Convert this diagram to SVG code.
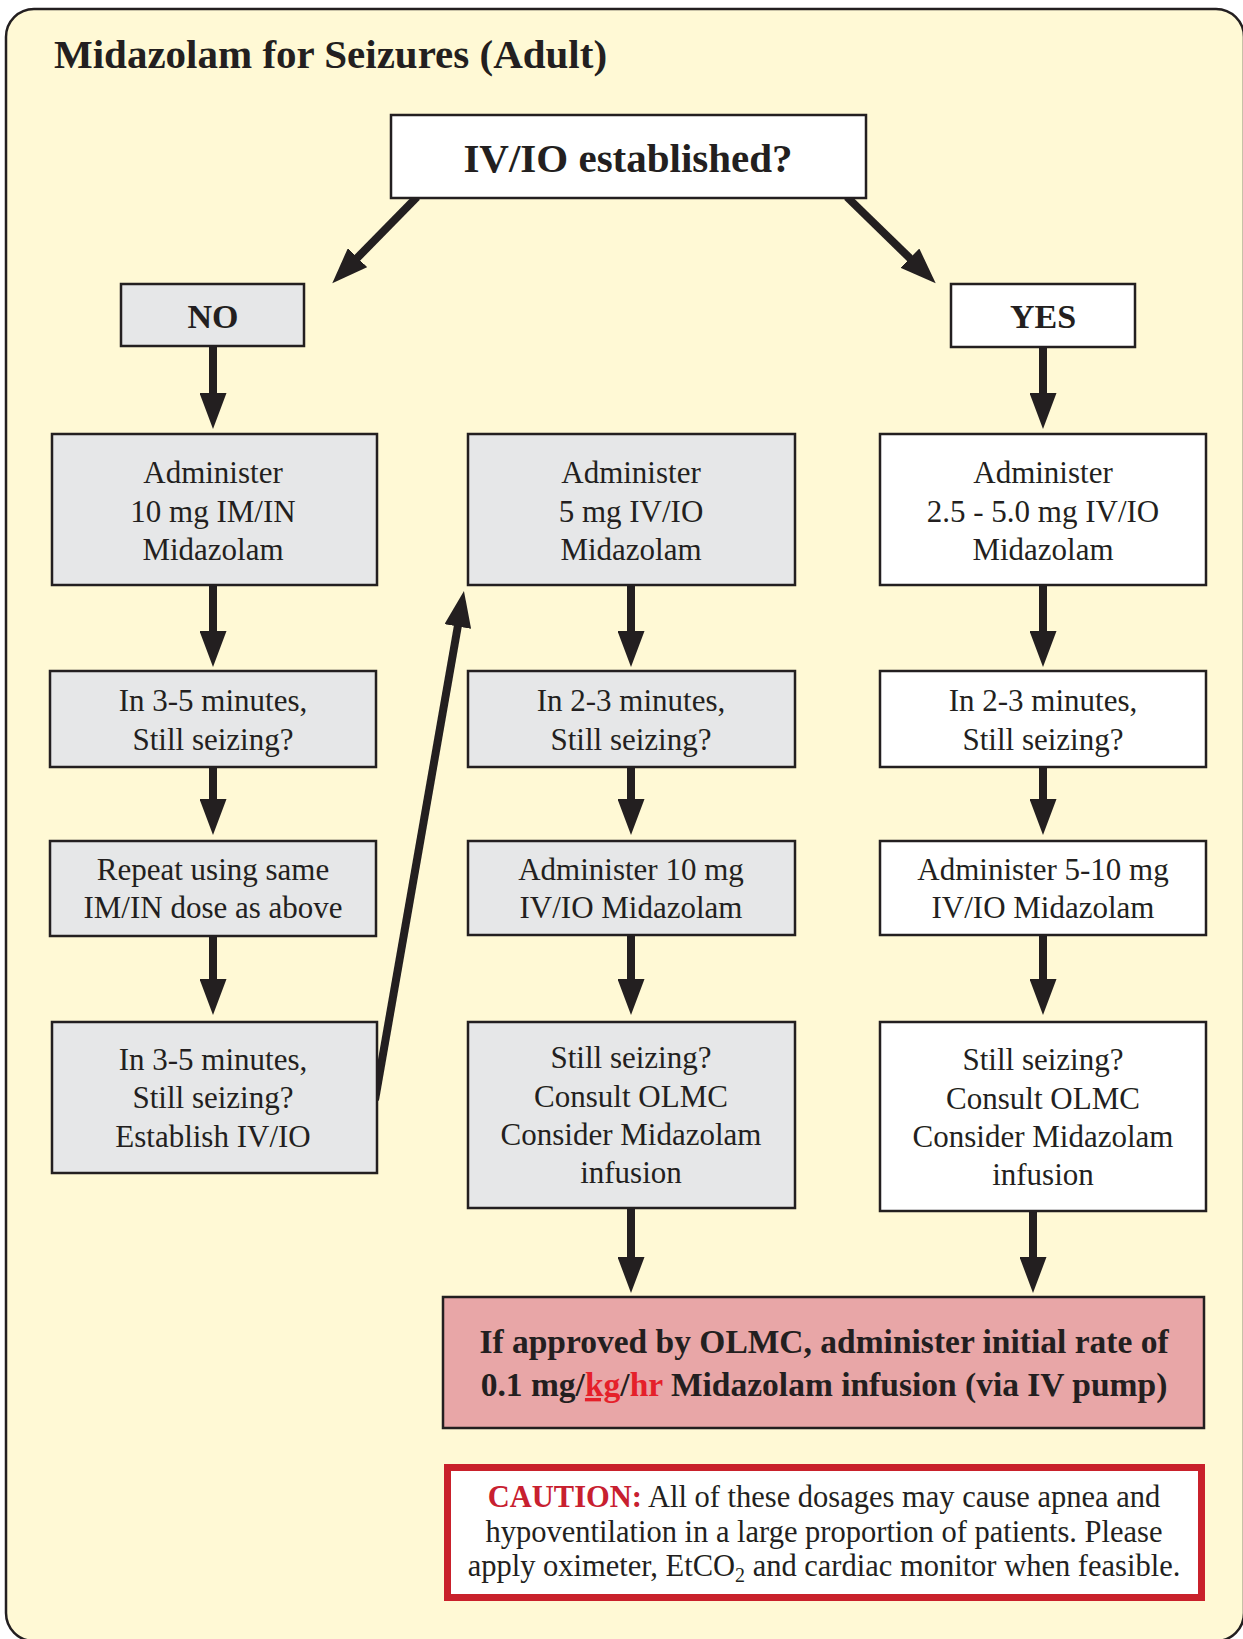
<svg xmlns="http://www.w3.org/2000/svg" width="1243" height="1639" viewBox="0 0 1243 1639">
  <defs>
    <marker id="head" markerUnits="userSpaceOnUse" markerWidth="36" markerHeight="27" refX="6" refY="13.5" orient="auto">
      <path d="M0,0 L36,13.5 L0,27 Z" fill="#231F20"/>
    </marker>
    <style>
      .frame { fill: #FFF9D5; stroke: #231F20; stroke-width: 2.5; }
      .box { stroke: #231F20; stroke-width: 2.5; }
      .grey { fill: #E6E7E8; }
      .white { fill: #FFFFFF; }
      .pink { fill: #E8A6A7; }
      .t { font-family: "Liberation Serif", "Times New Roman", serif; font-size: 31px; fill: #231F20; text-anchor: middle; }
      .b { font-weight: bold; }
      .title { font-family: "Liberation Serif", "Times New Roman", serif; font-size: 41px; font-weight: bold; fill: #231F20; }
      .arrow { fill: none; stroke: #231F20; stroke-width: 8; marker-end: url(#head); }
      .red { fill: #E5202A; }
      .crimson { fill: #C8202F; }
      .order { font-size: 33.5px; }
      .note { font-size: 30.5px; }
    </style>
  </defs>

  <!-- page frame and heading -->
  <rect class="frame" x="6" y="9" width="1238" height="1632" rx="28"/>
  <text class="title" x="54" y="68">Midazolam for Seizures (Adult)</text>

  <!-- connectors -->
  <g id="connectors">
    <line class="arrow" x1="417" y1="197" x2="353.3" y2="261.9"/>
    <line class="arrow" x1="847" y1="197" x2="914.2" y2="262.4"/>
    <!-- NO column -->
    <line class="arrow" x1="213" y1="346" x2="213" y2="399"/>
    <line class="arrow" x1="213" y1="585" x2="213" y2="637"/>
    <line class="arrow" x1="213" y1="767" x2="213" y2="805"/>
    <line class="arrow" x1="213" y1="936" x2="213" y2="985"/>
    <line class="arrow" x1="375" y1="1100" x2="458.8" y2="620.6"/>
    <!-- middle column -->
    <line class="arrow" x1="631" y1="585" x2="631" y2="637"/>
    <line class="arrow" x1="631" y1="767" x2="631" y2="805"/>
    <line class="arrow" x1="631" y1="935" x2="631" y2="985"/>
    <line class="arrow" x1="631" y1="1208" x2="631" y2="1263"/>
    <!-- YES column -->
    <line class="arrow" x1="1043" y1="347" x2="1043" y2="399"/>
    <line class="arrow" x1="1043" y1="585" x2="1043" y2="637"/>
    <line class="arrow" x1="1043" y1="767" x2="1043" y2="805"/>
    <line class="arrow" x1="1043" y1="935" x2="1043" y2="985"/>
    <line class="arrow" x1="1033" y1="1211" x2="1033" y2="1263"/>
  </g>

  <g id="q-ivio">
    <rect class="box white" x="391" y="115" width="475" height="83"/>
    <text class="t b" x="628" y="172" style="font-size:41px">IV/IO established?</text>
  </g>

  <g id="no">
    <rect class="box grey" x="121" y="284" width="183" height="62"/>
    <text class="t b" x="213" y="328" style="font-size:34px">NO</text>
  </g>

  <g id="yes">
    <rect class="box white" x="951" y="284" width="184" height="63"/>
    <text class="t b" x="1043" y="328" style="font-size:34px">YES</text>
  </g>

  <!-- NO branch -->
  <g id="no-dose1">
    <rect class="box grey" x="52" y="434" width="325" height="151"/>
    <text class="t" x="213" y="483">Administer</text>
    <text class="t" x="213" y="522">10 mg IM/IN</text>
    <text class="t" x="213" y="560">Midazolam</text>
  </g>
  <g id="no-check1">
    <rect class="box grey" x="50" y="671" width="326" height="96"/>
    <text class="t" x="213" y="711">In 3-5 minutes,</text>
    <text class="t" x="213" y="750">Still seizing?</text>
  </g>
  <g id="no-repeat">
    <rect class="box grey" x="50" y="841" width="326" height="95"/>
    <text class="t" x="213" y="880">Repeat using same</text>
    <text class="t" x="213" y="918">IM/IN dose as above</text>
  </g>
  <g id="no-check2">
    <rect class="box grey" x="52" y="1022" width="325" height="151"/>
    <text class="t" x="213" y="1070">In 3-5 minutes,</text>
    <text class="t" x="213" y="1108">Still seizing?</text>
    <text class="t" x="213" y="1147">Establish IV/IO</text>
  </g>

  <!-- middle branch -->
  <g id="mid-dose1">
    <rect class="box grey" x="468" y="434" width="327" height="151"/>
    <text class="t" x="631" y="483">Administer</text>
    <text class="t" x="631" y="522">5 mg IV/IO</text>
    <text class="t" x="631" y="560">Midazolam</text>
  </g>
  <g id="mid-check1">
    <rect class="box grey" x="468" y="671" width="327" height="96"/>
    <text class="t" x="631" y="711">In 2-3 minutes,</text>
    <text class="t" x="631" y="750">Still seizing?</text>
  </g>
  <g id="mid-dose2">
    <rect class="box grey" x="468" y="841" width="327" height="94"/>
    <text class="t" x="631" y="880">Administer 10 mg</text>
    <text class="t" x="631" y="918">IV/IO Midazolam</text>
  </g>
  <g id="mid-olmc">
    <rect class="box grey" x="468" y="1022" width="327" height="186"/>
    <text class="t" x="631" y="1068">Still seizing?</text>
    <text class="t" x="631" y="1107">Consult OLMC</text>
    <text class="t" x="631" y="1145">Consider Midazolam</text>
    <text class="t" x="631" y="1183">infusion</text>
  </g>

  <!-- YES branch -->
  <g id="yes-dose1">
    <rect class="box white" x="880" y="434" width="326" height="151"/>
    <text class="t" x="1043" y="483">Administer</text>
    <text class="t" x="1043" y="522">2.5 - 5.0 mg IV/IO</text>
    <text class="t" x="1043" y="560">Midazolam</text>
  </g>
  <g id="yes-check1">
    <rect class="box white" x="880" y="671" width="326" height="96"/>
    <text class="t" x="1043" y="711">In 2-3 minutes,</text>
    <text class="t" x="1043" y="750">Still seizing?</text>
  </g>
  <g id="yes-dose2">
    <rect class="box white" x="880" y="841" width="326" height="94"/>
    <text class="t" x="1043" y="880">Administer 5-10 mg</text>
    <text class="t" x="1043" y="918">IV/IO Midazolam</text>
  </g>
  <g id="yes-olmc">
    <rect class="box white" x="880" y="1022" width="326" height="189"/>
    <text class="t" x="1043" y="1070">Still seizing?</text>
    <text class="t" x="1043" y="1109">Consult OLMC</text>
    <text class="t" x="1043" y="1147">Consider Midazolam</text>
    <text class="t" x="1043" y="1185">infusion</text>
  </g>

  <!-- infusion order -->
  <g id="infusion">
    <rect class="box pink" x="443" y="1297" width="761" height="131"/>
    <text class="t b order" x="824" y="1353">If approved by OLMC, administer initial rate of</text>
    <text class="t b order" x="824" y="1396">0.1 mg/<tspan class="red" text-decoration="underline">kg</tspan>/<tspan class="red">hr</tspan> Midazolam infusion (via IV pump)</text>
  </g>

  <!-- caution note -->
  <g id="caution">
    <rect x="447.5" y="1467.5" width="754" height="130" fill="#FFFFFF" stroke="#C9212B" stroke-width="7"/>
    <text class="t note" x="824" y="1507"><tspan class="crimson b">CAUTION:</tspan> All of these dosages may cause apnea and</text>
    <text class="t note" x="824" y="1542">hypoventilation in a large proportion of patients. Please</text>
    <text class="t note" x="824" y="1576">apply oximeter, EtCO<tspan dy="6" style="font-size:20px">2</tspan><tspan dy="-6"> and cardiac monitor when feasible.</tspan></text>
  </g>
</svg>
